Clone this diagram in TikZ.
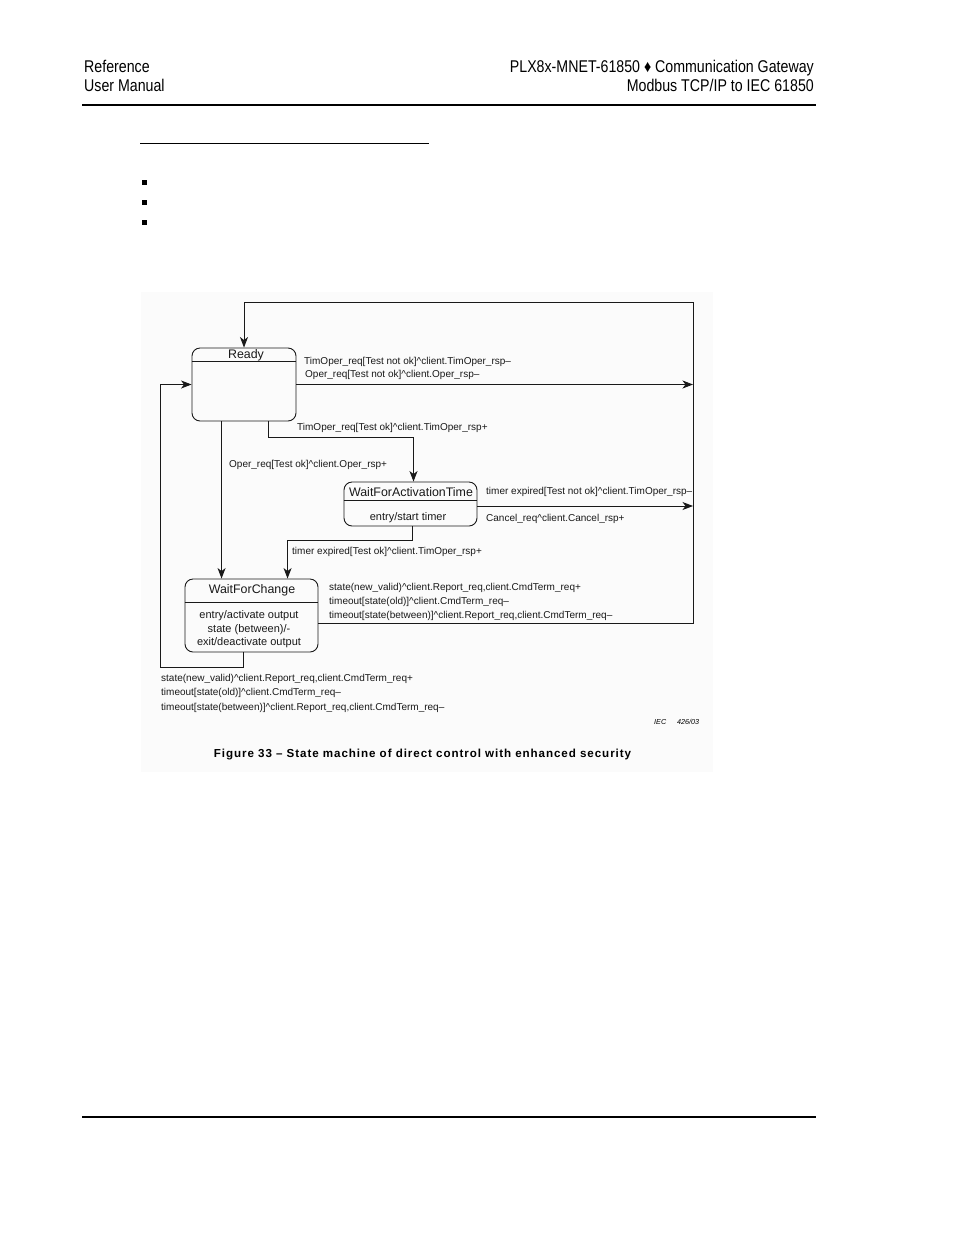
\documentclass[tikz,border=0pt]{standalone}
\usepackage{fontspec}
\setmainfont{Liberation Sans}
\newfontfamily\narrowfont[FakeStretch=0.835]{Liberation Sans}
\newfontfamily\capfont[LetterSpace=8]{Liberation Sans}
\usetikzlibrary{arrows.meta,calc}
\begin{document}
\begin{tikzpicture}[x=1pt,y=-1pt,
  st/.style={draw=black!90, line width=0.9pt, rounded corners=8pt, inner sep=0pt},
  ln/.style={draw=black!90, line width=0.9pt},
  arr/.style={ln, -{Stealth[length=10.5pt,width=8pt,inset=3pt]}},
  lab/.style={font=\fontsize{10}{12}\selectfont, inner sep=0pt, anchor=base west, text=black!90},
  ttl/.style={font=\fontsize{12.4}{14}\selectfont, inner sep=0pt, text=black!90},
  body/.style={font=\fontsize{11}{13}\selectfont, inner sep=0pt, text=black!90},
  hdr/.style={font=\narrowfont\fontsize{17}{20}\selectfont, inner sep=0pt},
]
\useasboundingbox (0,0) rectangle (954,1235);
\fill[white] (0,0) rectangle (954,1235);

% header / footer
\node[hdr, anchor=base west] (h1) at (84,72) {Reference};
\node[hdr, anchor=base west] (h2) at (84,91) {User Manual};
\node[hdr, anchor=base east] (h3) at (814,72) {PLX8x-MNET-61850 ♦ Communication Gateway};
\node[hdr, anchor=base east] (h4) at (814,91) {Modbus TCP/IP to IEC 61850};
\draw[line width=1.1pt] (82,105) -- (816,105);
\draw[line width=0.8pt] (140,143.5) -- (429,143.5);
\fill (142,179.5) rectangle (147,184.5);
\fill (142,199.5) rectangle (147,204.5);
\fill (142,219.5) rectangle (147,224.5);
\draw[line width=1.1pt] (82,1117) -- (816,1117);

% figure background
\fill[black!1.5] (141,292) rectangle (713,772);

% states
\node[st, minimum width=104pt, minimum height=73pt] (ready) at (244,384.5) {};
\draw[ln] ($(ready.north west)+(0,14)$) -- ($(ready.north east)+(0,14)$);
\node[ttl] (readyt) at (246,355) {Ready};

\node[st, minimum width=133pt, minimum height=44pt] (wfat) at (410.5,504) {};
\draw[ln] ($(wfat.north west)+(0,19)$) -- ($(wfat.north east)+(0,19)$);
\node[ttl] (wfatt) at (411,492) {WaitForActivationTime};
\node[body] (wfatb) at (408,518) {entry/start timer};

\node[st, minimum width=133pt, minimum height=73pt] (wfc) at (251.5,615.5) {};
\draw[ln] ($(wfc.north west)+(0,24)$) -- ($(wfc.north east)+(0,24)$);
\node[ttl] (wfct) at (252,590) {WaitForChange};
\node[body] (wfcb1) at (249,616) {entry/activate output};
\node[body] (wfcb2) at (249,629.5) {state (between)/-};
\node[body] (wfcb3) at (249,643) {exit/deactivate output};

% connector coordinates
\coordinate (rb) at (693,623);
\coordinate (rt) at (693,302);
\coordinate (r1) at (693,384.5);
\coordinate (r2) at (693,506);

% connectors
\draw[arr] ($(wfc.east)+(0,7.5)$) -- (rb) -- (rt) -| (ready.north);
\draw[arr] (ready.east) -- (r1);
\draw[arr] ($(wfat.east)+(0,2)$) -- (r2);
\draw[arr] ($(ready.south west)+(30,0)$) -- ($(wfc.north west)+(37,0)$);
\draw[arr] ($(ready.south west)+(77,0)$) -- ++(0,16) -| ($(wfat.north)+(3,0)$);
\draw[arr] ($(wfat.south)+(1.5,0)$) -- ++(0,14) -| ($(wfc.north west)+(103,0)$);
\draw[arr] ($(wfc.south west)+(59,0)$) -- ++(0,15) -| ($(ready.west)+(-31,0)$) -- (ready.west);

% labels
\node[lab] (l1) at (304,364) {TimOper\_req[Test not ok]\textasciicircum client.TimOper\_rsp–};
\node[lab] (l2) at (305,377) {Oper\_req[Test not ok]\textasciicircum client.Oper\_rsp–};
\node[lab] (l3) at (297,430) {TimOper\_req[Test ok]\textasciicircum client.TimOper\_rsp+};
\node[lab] (l4) at (229,467) {Oper\_req[Test ok]\textasciicircum client.Oper\_rsp+};
\node[lab] (l5) at (486,494) {timer expired[Test not ok]\textasciicircum client.TimOper\_rsp–};
\node[lab] (l6) at (486,521) {Cancel\_req\textasciicircum client.Cancel\_rsp+};
\node[lab] (l7) at (292,554) {timer expired[Test ok]\textasciicircum client.TimOper\_rsp+};
\node[lab] (l8) at (329,590) {state(new\_valid)\textasciicircum client.Report\_req,client.CmdTerm\_req+};
\node[lab] (l9) at (329,604) {timeout[state(old)]\textasciicircum client.CmdTerm\_req–};
\node[lab] (l10) at (329,618) {timeout[state(between)]\textasciicircum client.Report\_req,client.CmdTerm\_req–};
\node[lab] (l11) at (161,681) {state(new\_valid)\textasciicircum client.Report\_req,client.CmdTerm\_req+};
\node[lab] (l12) at (161,695) {timeout[state(old)]\textasciicircum client.CmdTerm\_req–};
\node[lab] (l13) at (161,710) {timeout[state(between)]\textasciicircum client.Report\_req,client.CmdTerm\_req–};

\node[font=\itshape\fontsize{7.2}{8}\selectfont, anchor=base west, inner sep=0pt] (iec) at (654,724) {IEC\hspace{11pt}426/03};
\node[font=\capfont\bfseries\fontsize{11.6}{13}\selectfont, inner sep=0pt] (cap) at (422.5,754.5) {Figure 33 – State machine of direct control with enhanced security};
\end{tikzpicture}
\end{document}
